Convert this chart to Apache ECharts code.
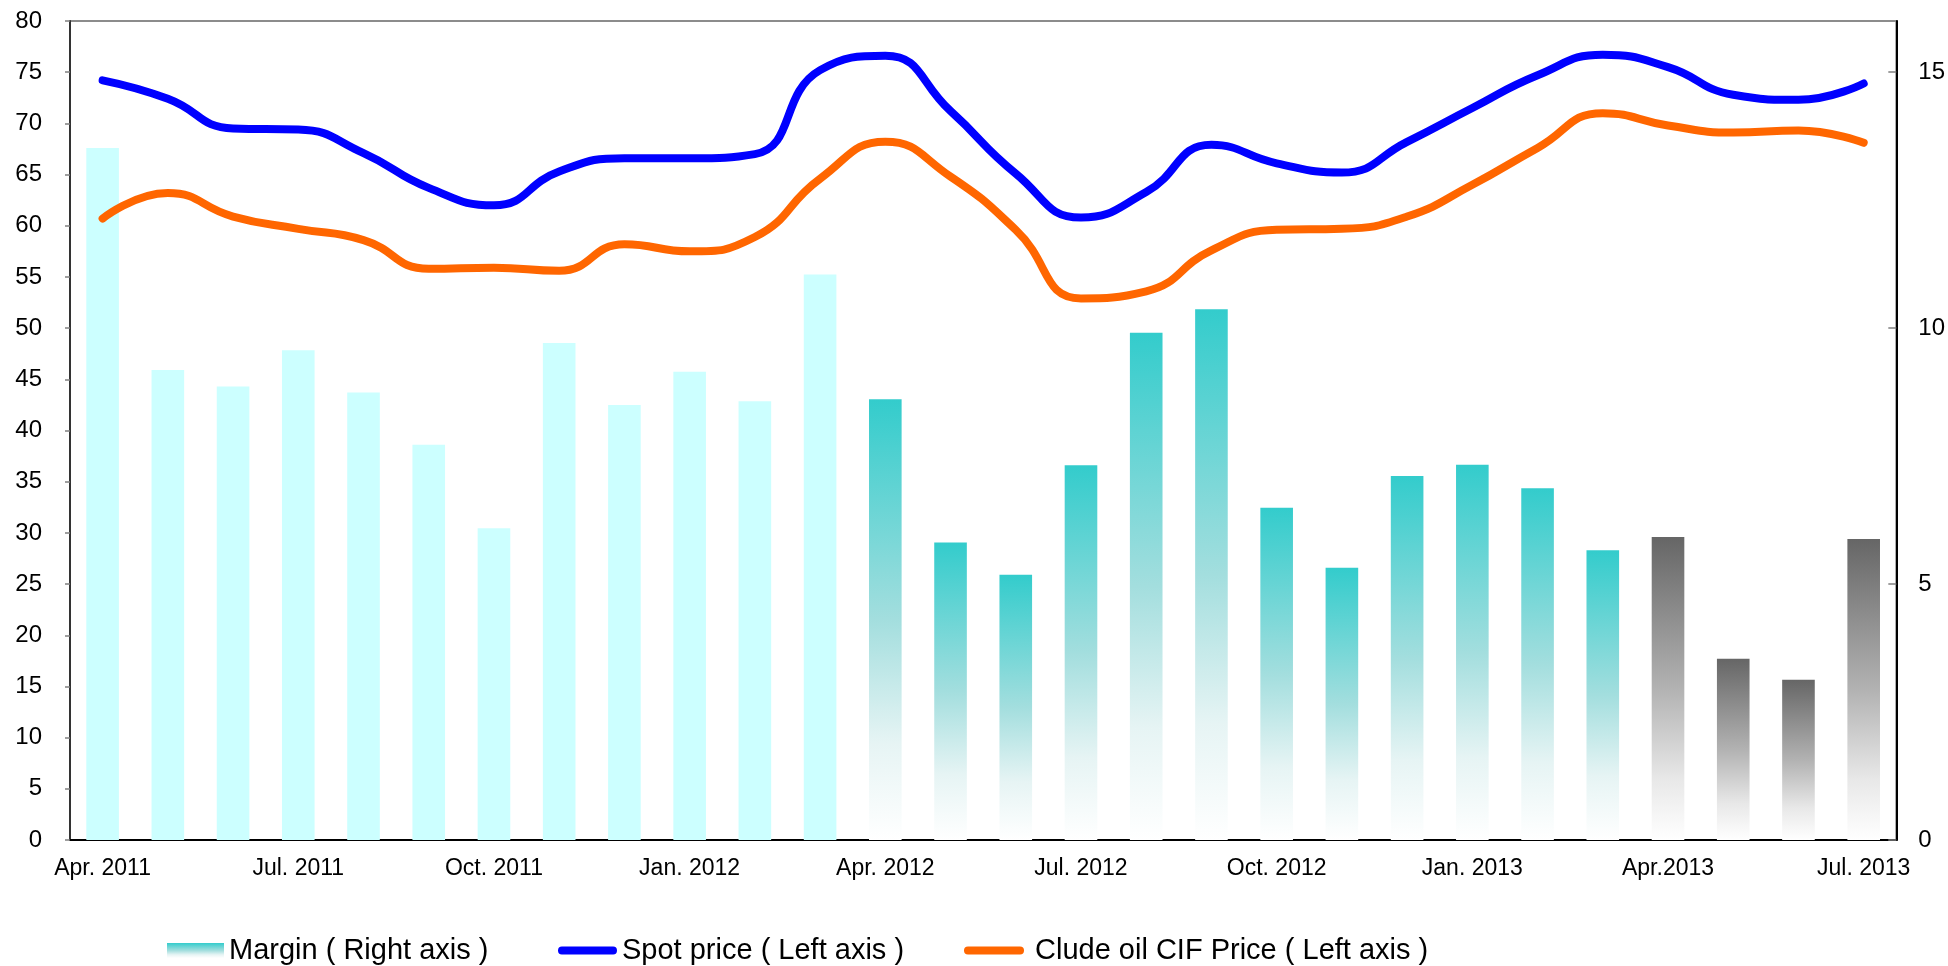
<!DOCTYPE html>
<html>
<head>
<meta charset="utf-8">
<script src="https://cdn.jsdelivr.net/npm/echarts@6/dist/echarts.min.js"></script>
<style>
  html, body { margin: 0; padding: 0; background: #fff; }
  #chart { width: 1948px; height: 966px; }
</style>
</head>
<body>
<div id="chart"></div>
<script>
// monthly categories, Apr 2011 - Jul 2013
var months = [
  'Apr. 2011', 'May 2011', 'Jun. 2011', 'Jul. 2011', 'Aug. 2011', 'Sep. 2011',
  'Oct. 2011', 'Nov. 2011', 'Dec. 2011', 'Jan. 2012', 'Feb. 2012', 'Mar. 2012',
  'Apr. 2012', 'May 2012', 'Jun. 2012', 'Jul. 2012', 'Aug. 2012', 'Sep. 2012',
  'Oct. 2012', 'Nov. 2012', 'Dec. 2012', 'Jan. 2013', 'Feb. 2013', 'Mar. 2013',
  'Apr.2013', 'May 2013', 'Jun. 2013', 'Jul. 2013'
];

// right axis
var margin = [
  13.52, 9.18, 8.86, 9.57, 8.74, 7.72, 6.09, 9.71, 8.50, 9.15, 8.57, 11.05,
  8.61, 5.81, 5.18, 7.32, 9.91, 10.37, 6.49, 5.32, 7.11, 7.33, 6.87, 5.66,
  5.92, 3.54, 3.13, 5.88
];

// left axis
var spotPrice = [
  74.2, 72.4, 69.5, 69.4, 67.1, 63.7, 62.0, 65.3, 66.6, 66.6, 67.0, 75.2,
  76.6, 71.2, 65.1, 60.8, 63.3, 67.9, 66.1, 65.2, 68.2, 71.5, 74.7, 76.7,
  75.5, 72.8, 72.3, 73.9
];

var crudeCif = [
  60.7, 63.2, 60.9, 59.7, 58.6, 55.8, 55.9, 55.6, 58.2, 57.5, 58.9, 64.6,
  68.2, 64.8, 59.6, 52.9, 53.6, 57.6, 59.6, 59.7, 60.9, 64.0, 67.6, 71.0,
  69.8, 69.1, 69.3, 68.1
];

var leftTicks = { min: 0, max: 80, interval: 5 };
var rightTicks = { min: 0, max: 16, interval: 5 };

var FONT = '"Liberation Sans", Arial, sans-serif';
var PILL = 'path://M4,0 L56,0 A4,4 0 0 1 56,8 L4,8 A4,4 0 0 1 4,0 Z';

function grad(stops) {
  return new echarts.graphic.LinearGradient(0, 0, 0, 1, stops.map(function (s) {
    return { offset: s[0], color: s[1] };
  }), false);
}

var tealGrad = [[0, '#33CCCC'], [0.5, '#A3DEDE'], [0.78, '#E6F4F4'], [1, '#FFFFFF']];
var grayGrad = [[0, '#666666'], [0.5, '#B2B2B2'], [0.8, '#E8E8E8'], [1, '#FFFFFF']];

var barData = margin.map(function (v, i) {
  var color;
  if (i < 12) color = '#CCFFFF';
  else if (i < 24) color = grad(tealGrad);
  else color = grad(grayGrad);
  return { value: v, itemStyle: { color: color } };
});

var chart = echarts.init(document.getElementById('chart'));

var legendBase = {
  orient: 'horizontal',
  top: 931,
  itemGap: 0,
  selectedMode: false,
  textStyle: { fontSize: 29, color: '#000', fontFamily: FONT }
};

var option = {
  backgroundColor: '#fff',
  animation: false,
  textStyle: { fontFamily: FONT },
  grid: {
    left: 70, right: 51, top: 21, bottom: 126,
    show: true, borderColor: '#8c8c8c', borderWidth: 2, backgroundColor: 'transparent'
  },
  legend: [
    Object.assign({}, legendBase, {
      left: 162, itemWidth: 57, itemHeight: 15,
      data: [{ name: 'Margin ( Right axis )', icon: 'rect' }]
    }),
    Object.assign({}, legendBase, {
      left: 553, itemWidth: 59, itemHeight: 8,
      data: [{ name: 'Spot price ( Left axis )', icon: PILL }]
    }),
    Object.assign({}, legendBase, {
      left: 959, itemWidth: 72, itemHeight: 8,
      data: [{ name: 'Clude oil CIF Price ( Left axis )', icon: PILL }]
    })
  ],
  xAxis: {
    type: 'category',
    data: months,
    boundaryGap: true,
    axisLine: { lineStyle: { color: '#000', width: 2 } },
    axisTick: { inside: true, length: 6, interval: 0, lineStyle: { color: '#808080', width: 1.5 } },
    axisLabel: { interval: 2, margin: 17, fontSize: 23, color: '#000', fontFamily: FONT },
    splitLine: { show: false }
  },
  yAxis: [
    {
      type: 'value',
      position: 'left',
      min: leftTicks.min, max: leftTicks.max, interval: leftTicks.interval,
      axisLine: { show: true, lineStyle: { color: '#333', width: 2 } },
      axisTick: { show: true, length: 5, lineStyle: { color: '#808080', width: 1.5 } },
      axisLabel: { margin: 28, fontSize: 24, color: '#000', fontFamily: FONT },
      splitLine: { show: false }
    },
    {
      type: 'value',
      position: 'right',
      min: rightTicks.min, max: rightTicks.max, interval: rightTicks.interval,
      axisLine: { show: true, lineStyle: { color: '#000', width: 2 } },
      axisTick: { show: true, inside: true, length: 8, lineStyle: { color: '#808080', width: 1.5 } },
      axisLabel: {
        margin: 22, fontSize: 24, color: '#000', fontFamily: FONT, showMaxLabel: false,
        formatter: function (v) { return v % 5 === 0 ? v : ''; }
      },
      splitLine: { show: false }
    }
  ],
  series: [
    {
      name: 'Margin ( Right axis )',
      type: 'bar',
      yAxisIndex: 1,
      barWidth: '50%',
      itemStyle: { color: grad(tealGrad) },
      data: barData,
      z: 1
    },
    {
      name: 'Spot price ( Left axis )',
      type: 'line',
      yAxisIndex: 0,
      data: spotPrice,
      smooth: 0.5,
      symbol: 'none',
      lineStyle: { color: '#0000FF', width: 8, cap: 'round' },
      itemStyle: { color: '#0000FF' },
      z: 3
    },
    {
      name: 'Clude oil CIF Price ( Left axis )',
      type: 'line',
      yAxisIndex: 0,
      data: crudeCif,
      smooth: 0.5,
      symbol: 'none',
      lineStyle: { color: '#FF6600', width: 8, cap: 'round' },
      itemStyle: { color: '#FF6600' },
      z: 3
    }
  ]
};

chart.setOption(option);
</script>
</body>
</html>
